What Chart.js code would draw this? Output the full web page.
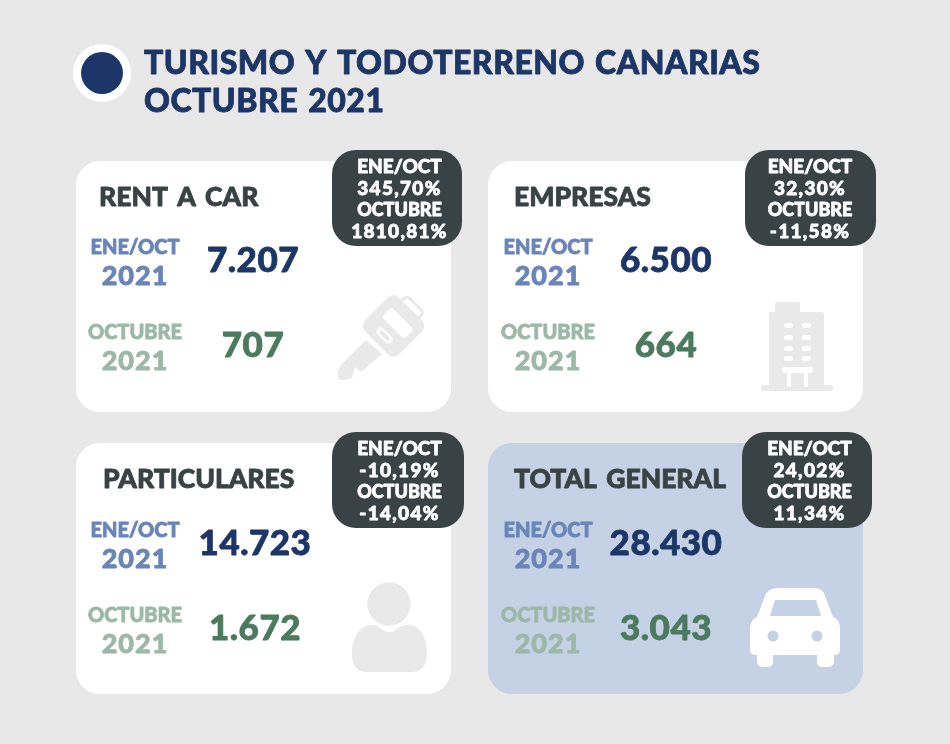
<!DOCTYPE html>
<html>
<head>
<meta charset="utf-8">
<title>Turismo y todoterreno Canarias</title>
<script src="https://cdn.jsdelivr.net/npm/chart.js@4"></script>
<style>
html, body { margin: 0; padding: 0; background: #e8e8e8; }
canvas { display: block; }
</style>
</head>
<body>
<canvas id="chartCanarias" width="950" height="744"></canvas>
<script>
// datos
var titleLines = ['TURISMO Y TODOTERRENO CANARIAS', 'OCTUBRE 2021'];
var categories = ['RENT A CAR', 'EMPRESAS', 'PARTICULARES', 'TOTAL GENERAL'];
var eneOctValues = [7207, 6500, 14723, 28430];
var octubreValues = [707, 664, 1672, 3043];
var eneOctPct = ['345,70%', '32,30%', '-10,19%', '24,02%'];
var octubrePct = ['1810,81%', '-11,58%', '-14,04%', '11,34%'];
var periodLabels = ['ENE/OCT', 'OCTUBRE'];
var yearLabel = '2021';

var NAVY = '#1c3668', DARK = '#394244', BLUE = '#6a85b8', GREEN = '#4b7a5f', LIGHTGREEN = '#9cb8a8', GREY = '#e9e9e9';
var FONT = 'Lato, sans-serif';

// posiciones de cada tarjeta
var cards = [
    {x: 76, y: 161, titleX: 99, labelX: 135, valueX: 253, badgeX: 332, badgeW: 130, textX: 399.5, shift: 0, icon: drawKey},
    {x: 488, y: 161, titleX: 514, labelX: 548, valueX: 666, badgeX: 745, badgeW: 131, textX: 810, shift: 0, icon: drawBuilding},
    {x: 76, y: 443, titleX: 103, labelX: 135, valueX: 255, badgeX: 332, badgeW: 132, textX: 399.5, shift: 1, icon: drawPerson},
    {x: 488, y: 443, titleX: 514, labelX: 548, valueX: 666, badgeX: 742, badgeW: 130, textX: 809.5, shift: 1, icon: drawCar}
];

function fmt(n) {
    return String(n).replace(/\B(?=(\d{3})+$)/g, '.');
}

// Lato no llega al peso del original, se engorda con un trazo fino
function text(ctx, str, x, y, font, color, align, spacing, words) {
    ctx.font = font;
    ctx.fillStyle = color;
    ctx.strokeStyle = color;
    ctx.lineWidth = 0.8;
    ctx.lineJoin = 'round';
    ctx.textAlign = align || 'left';
    ctx.textBaseline = 'alphabetic';
    ctx.letterSpacing = spacing || '0px';
    ctx.wordSpacing = words || '0px';
    ctx.fillText(str, x, y);
    ctx.strokeText(str, x, y);
}

function box(ctx, x, y, w, h, r, color) {
    ctx.fillStyle = color;
    ctx.beginPath();
    ctx.roundRect(x, y, w, h, r);
    ctx.fill();
}

// iconos
function drawKey(ctx, hole) {
    ctx.save();
    ctx.fillStyle = GREY;
    ctx.beginPath();
    ctx.moveTo(366, 340);
    ctx.lineTo(382, 354);
    ctx.lineTo(361, 372);
    ctx.lineTo(355, 367);
    ctx.lineTo(352, 378);
    ctx.lineTo(347, 379);
    ctx.quadraticCurveTo(338, 383, 338, 375);
    ctx.quadraticCurveTo(337, 369, 342, 364);
    ctx.closePath();
    ctx.fill();
    ctx.translate(393.5, 326);
    ctx.rotate(Math.PI / 4);
    box(ctx, -24, -24, 48, 48, 8, GREY);
    box(ctx, -15, -12, 32, 14, 4, hole);
    box(ctx, -9, 9, 19, 8, 4, hole);
    box(ctx, -6, 11, 13, 4, 2, GREY);
    ctx.strokeStyle = GREY;
    ctx.lineWidth = 3;
    ctx.beginPath();
    ctx.roundRect(-12, -31, 24, 12, 4);
    ctx.stroke();
    ctx.restore();
}

function drawBuilding(ctx, hole) {
    box(ctx, 775, 302, 25, 14, 2, GREY);
    box(ctx, 769, 312, 55, 76, 2, GREY);
    box(ctx, 761, 385, 72, 6, 3, GREY);
    [323, 335, 346, 356].forEach(function (wy) {
        box(ctx, 784, wy, 9, 5, 2.5, hole);
        box(ctx, 802, wy, 9, 5, 2.5, hole);
    });
    box(ctx, 782, 367, 31, 6, 3, hole);
    box(ctx, 787, 372, 4, 15, 0, hole);
    box(ctx, 804, 372, 4, 15, 0, hole);
}

function drawPerson(ctx, hole) {
    ctx.fillStyle = GREY;
    ctx.beginPath();
    ctx.arc(389, 604, 21.7, 0, Math.PI * 2);
    ctx.fill();
    ctx.beginPath();
    ctx.moveTo(352, 655);
    ctx.bezierCurveTo(352, 636, 360, 625, 373, 625);
    ctx.bezierCurveTo(380, 625, 382, 632, 389, 632);
    ctx.bezierCurveTo(396, 632, 399, 625, 407, 625);
    ctx.bezierCurveTo(420, 625, 427, 636, 427, 655);
    ctx.bezierCurveTo(427, 666, 421, 672, 412, 672);
    ctx.lineTo(366, 672);
    ctx.bezierCurveTo(358, 672, 352, 666, 352, 655);
    ctx.fill();
}

function drawCar(ctx, hole) {
    var c = '#ffffff';
    ctx.fillStyle = c;
    ctx.beginPath();
    ctx.moveTo(778, 588);
    ctx.lineTo(814, 588);
    ctx.quadraticCurveTo(823, 588, 825, 596);
    ctx.lineTo(833, 617);
    ctx.quadraticCurveTo(840, 620, 840, 628);
    ctx.lineTo(840, 650);
    ctx.quadraticCurveTo(840, 655, 834, 655);
    ctx.lineTo(756, 655);
    ctx.quadraticCurveTo(750, 655, 750, 650);
    ctx.lineTo(750, 628);
    ctx.quadraticCurveTo(750, 620, 757, 617);
    ctx.lineTo(765, 596);
    ctx.quadraticCurveTo(768, 588, 778, 588);
    ctx.fill();
    box(ctx, 757, 650, 16, 17, 5, c);
    box(ctx, 817, 650, 17, 17, 5, c);
    ctx.fillStyle = hole;
    ctx.beginPath();
    ctx.moveTo(775, 600);
    ctx.lineTo(816, 600);
    ctx.lineTo(821, 616);
    ctx.lineTo(770, 616);
    ctx.closePath();
    ctx.fill();
    ctx.beginPath();
    ctx.arc(773, 636, 5.5, 0, Math.PI * 2);
    ctx.fill();
    ctx.beginPath();
    ctx.arc(817, 636, 5.5, 0, Math.PI * 2);
    ctx.fill();
}

// plugin que pinta las tarjetas
var tarjetas = {
    id: 'tarjetas',
    beforeDatasetsDraw: function (chart) {
        var ctx = chart.ctx;
        var sx = chart.scales.x, sy = chart.scales.y;
        ctx.save();

        ctx.fillStyle = '#ffffff';
        ctx.beginPath();
        ctx.arc(sx.getPixelForValue(102), sy.getPixelForValue(73), 29, 0, Math.PI * 2);
        ctx.fill();
        ctx.fillStyle = NAVY;
        ctx.beginPath();
        ctx.arc(sx.getPixelForValue(102), sy.getPixelForValue(73), 21, 0, Math.PI * 2);
        ctx.fill();

        text(ctx, titleLines[0], sx.getPixelForValue(144), sy.getPixelForValue(74), '900 32px ' + FONT, NAVY, 'left', '0.5px', '2px');
        text(ctx, titleLines[1], sx.getPixelForValue(144), sy.getPixelForValue(112), '900 32px ' + FONT, NAVY, 'left', '0.5px', '2px');

        cards.forEach(function (c, i) {
            var bg = i == 3 ? '#c5d1e4' : '#ffffff';
            var px = sx.getPixelForValue(c.x), py = sy.getPixelForValue(c.y);
            var ty = py + c.shift;
            box(ctx, px, py, 375, 251, 24, bg);
            c.icon(ctx, bg);

            text(ctx, categories[i], c.titleX, py + 45, '900 26.5px ' + FONT, DARK, 'left', '0px', '3px');
            text(ctx, periodLabels[0], c.labelX, ty + 93, '900 20px ' + FONT, BLUE, 'center');
            text(ctx, yearLabel, c.labelX, ty + 124, '900 27px ' + FONT, BLUE, 'center', '1px');
            text(ctx, periodLabels[1], c.labelX, ty + 178, '900 20px ' + FONT, LIGHTGREEN, 'center');
            text(ctx, yearLabel, c.labelX, ty + 209, '900 27px ' + FONT, LIGHTGREEN, 'center', '1px');
            text(ctx, fmt(eneOctValues[i]), c.valueX, ty + 111, '900 35px ' + FONT, NAVY, 'center', '0.5px');
            text(ctx, fmt(octubreValues[i]), c.valueX, ty + 196, '900 35px ' + FONT, GREEN, 'center', '0.5px');

            var by = py - 11;
            box(ctx, c.badgeX, by, c.badgeW, 96, 24, DARK);
            text(ctx, periodLabels[0], c.textX, by + 23, '900 19px ' + FONT, '#ffffff', 'center');
            text(ctx, eneOctPct[i], c.textX, by + 45, '900 19px ' + FONT, '#ffffff', 'center', '1.3px');
            text(ctx, periodLabels[1], c.textX, by + 66, '900 18px ' + FONT, '#ffffff', 'center');
            text(ctx, octubrePct[i], c.textX, by + 88, '900 19px ' + FONT, '#ffffff', 'center', '1.3px');
        });
        ctx.restore();
    }
};

var mainCanvas = document.getElementById('chartCanarias');

var chart = new Chart(mainCanvas, {
    type: 'scatter',
    data: {
        datasets: [{
            label: 'Tarjetas',
            data: cards.map(function (c) { return {x: c.x, y: c.y}; }),
            pointRadius: 0
        }]
    },
    options: {
        responsive: false,
        animation: false,
        layout: { padding: 0 },
        plugins: { legend: { display: false }, tooltip: { enabled: false } },
        scales: {
            x: { type: 'linear', min: 0, max: 950, display: false },
            y: { type: 'linear', min: 0, max: 744, reverse: true, display: false }
        }
    },
    plugins: [tarjetas]
});
</script>
</body>
</html>
